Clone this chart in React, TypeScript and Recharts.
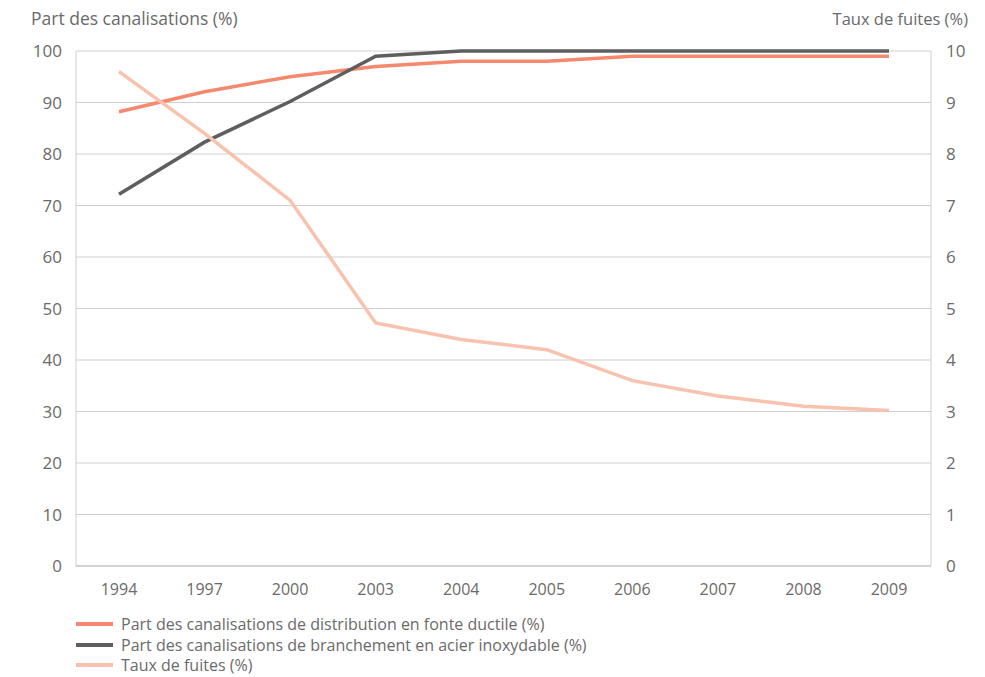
import React from 'react';
import { LineChart, Line, XAxis, YAxis, CartesianGrid, Legend, Label } from 'recharts';

const years = ['1994', '1997', '2000', '2003', '2004', '2005', '2006', '2007', '2008', '2009'];
const fonteDuctile = [88.2, 92.1, 95.0, 97.0, 98.0, 98.0, 99.0, 99.0, 99.0, 99.0];
const acierInox = [72.2, 82.3, 90.2, 99.0, 100, 100, 100, 100, 100, 100];
const tauxFuites = [9.6, 8.4, 7.1, 4.72, 4.4, 4.2, 3.6, 3.3, 3.1, 3.02];
const leftTicks = [0, 10, 20, 30, 40, 50, 60, 70, 80, 90, 100];
const rightTicks = [0, 1, 2, 3, 4, 5, 6, 7, 8, 9, 10];

const seriesNames = [
  'Part des canalisations de distribution en fonte ductile (%)',
  'Part des canalisations de branchement en acier inoxydable (%)',
  'Taux de fuites (%)',
];
const colors = ['#F4896D', '#5E5E5E', '#F9C2AE'];

const data = years.map((y, i) => ({
  year: y,
  fonte: fonteDuctile[i],
  acier: acierInox[i],
  taux: tauxFuites[i],
}));

const FONT = '"Open Sans", sans-serif';
const TEXT = '#6a6a6a';

const renderLegend = () => (
  <div style={{ fontFamily: FONT, fontSize: 16, color: TEXT }}>
    {seriesNames.map((n, i) => (
      <div key={n} style={{ display: 'flex', alignItems: 'center', height: 20.5, whiteSpace: 'nowrap' }}>
        <div style={{ width: 37, height: 4, background: colors[i], marginRight: 8, flex: 'none' }} />
        <span style={{ lineHeight: '16px' }}>{n}</span>
      </div>
    ))}
  </div>
);

export default function App() {
  return (
    <div style={{ position: 'absolute', left: 0, top: 0, width: 985, height: 677, background: '#fff' }}>
      <LineChart
        width={985}
        height={677}
        data={data}
        margin={{ top: 51, left: 16, right: 0, bottom: 81 }}
      >
        <CartesianGrid horizontal vertical={false} stroke="#cfcfcf" yAxisId="left" />
        <XAxis
          dataKey="year"
          padding={{ left: 43, right: 42 }}
          tickLine={false}
          tickSize={0}
          tickMargin={18}
          height={30}
          axisLine={{ stroke: '#bdbdbd' }}
          tick={{ fill: TEXT, fontSize: 16, fontFamily: FONT }}
          interval={0}
        />
        <YAxis
          yAxisId="left"
          domain={[0, 100]}
          ticks={leftTicks}
          width={60}
          tickLine={false}
          tickSize={0}
          tickMargin={14}
          axisLine={{ stroke: '#cfcfcf' }}
          tick={{ fill: TEXT, fontSize: 17, fontFamily: FONT }}
        >
          <Label
            content={({ viewBox }: any) => (
              <text x={viewBox.x + 15} y={viewBox.y - 26} fill={TEXT} fontSize={17.5} fontFamily={FONT}>
                Part des canalisations (%)
              </text>
            )}
          />
        </YAxis>
        <YAxis
          yAxisId="right"
          orientation="right"
          domain={[0, 10]}
          ticks={rightTicks}
          width={54}
          tickLine={false}
          tickSize={0}
          tickMargin={15}
          axisLine={{ stroke: '#cfcfcf' }}
          tick={{ fill: TEXT, fontSize: 17, fontFamily: FONT }}
        >
          <Label
            content={({ viewBox }: any) => (
              <text x={viewBox.x + 37} y={viewBox.y - 26} fill={TEXT} fontSize={16.5} fontFamily={FONT} textAnchor="end">
                Taux de fuites (%)
              </text>
            )}
          />
        </YAxis>
        <Legend
          layout="vertical"
          align="center"
          verticalAlign="middle"
          content={renderLegend}
          wrapperStyle={{ left: 76, top: 614, width: 650 }}
        />
        <Line yAxisId="left" dataKey="fonte" name={seriesNames[0]} stroke={colors[0]} strokeWidth={3.5} dot={false} isAnimationActive={false} strokeLinejoin="miter" />
        <Line yAxisId="left" dataKey="acier" name={seriesNames[1]} stroke={colors[1]} strokeWidth={3.5} dot={false} isAnimationActive={false} strokeLinejoin="miter" />
        <Line yAxisId="right" dataKey="taux" name={seriesNames[2]} stroke={colors[2]} strokeWidth={3.5} dot={false} isAnimationActive={false} strokeLinejoin="miter" />
      </LineChart>
    </div>
  );
}
